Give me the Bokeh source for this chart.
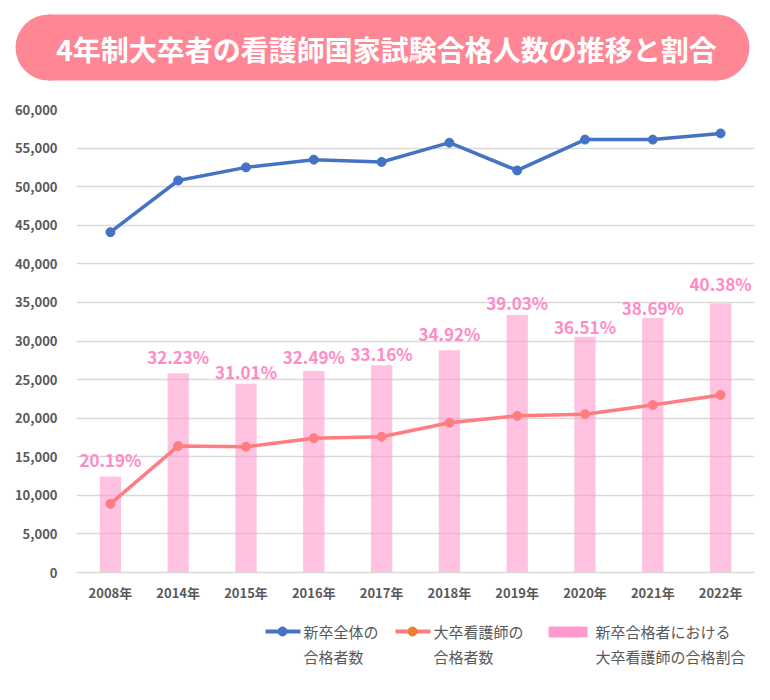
from bokeh.plotting import figure
from bokeh.layouts import column
from bokeh.models import Range1d, NumeralTickFormatter, SingleIntervalTicker, ColumnDataSource
from bokeh.core.properties import value
from bokeh.embed import file_html
from bokeh.resources import INLINE

# --- data -------------------------------------------------------------
years = ["2008年", "2014年", "2015年", "2016年", "2017年",
         "2018年", "2019年", "2020年", "2021年", "2022年"]
# 新卒全体の合格者数
total_passers = [44100, 50800, 52500, 53500, 53200, 55700, 52100, 56100, 56100, 56900]
# 大卒看護師の合格者数
univ_passers = [8900, 16400, 16300, 17400, 17600, 19400, 20300, 20500, 21700, 23000]
# 新卒合格者における大卒看護師の合格割合 (%)
share_pct = [20.19, 32.23, 31.01, 32.49, 33.16, 34.92, 39.03, 36.51, 38.69, 40.38]
share_labels = [f"{v:.2f}%" for v in share_pct]

title_text = "4年制大卒者の看護師国家試験合格人数の推移と割合"
legend_text = ["新卒全体の", "合格者数", "大卒看護師の", "合格者数",
               "新卒合格者における", "大卒看護師の合格割合"]

# how far (px) each percentage label sits above its bar
label_lift = [17, 17, 12, 15, 12, 17, 13, 10, 10, 20]

FONT = "Noto Sans CJK JP"
GREY = "#595959"
BLUE = "#4472C4"
SALMON = "#FF7C80"
ORANGE = "#ED7D31"
PINK = "#FF99CC"
LABEL_PINK = "#FF8AC6"
BANNER = "#FF8795"

W = 770


def panel(height, y_top, y_bottom):
    """A bare full-width figure whose data units equal canvas pixels."""
    f = figure(width=W, height=height,
               x_range=Range1d(0, W), y_range=Range1d(y_bottom, y_top),
               x_axis_type=None, y_axis_type=None, toolbar_location=None,
               output_backend="svg", min_border=0, frame_align=False)
    f.outline_line_color = None
    return f


# --- title banner -----------------------------------------------------
head = panel(95, 0, 95)
head.quad(left=48, right=716, top=14, bottom=80, fill_color=BANNER, line_color=None)
head.circle(x=[48, 716], y=[47, 47], radius=33, fill_color=BANNER, line_color=None)
head.text(x=[386], y=[48], text=[title_text], text_align="center", text_baseline="middle",
          text_font=value(FONT), text_font_style="bold", text_font_size="28px",
          text_color="white")

# --- main chart -------------------------------------------------------
p = figure(width=W, height=515, x_range=years, y_range=Range1d(0, 60000),
           toolbar_location=None, output_backend="svg",
           min_border_left=76, min_border_right=16,
           min_border_top=14, min_border_bottom=38)
p.outline_line_color = None
p.extra_y_ranges = {"share": Range1d(9, 63)}

p.vbar(x=years, top=share_pct, bottom=9, width=0.315, y_range_name="share",
       fill_color=PINK, fill_alpha=0.6, line_color=None)

p.line(years, univ_passers, line_color=SALMON, line_width=3.5)
p.scatter(years, univ_passers, size=9, fill_color=SALMON, line_color=SALMON)

p.line(years, total_passers, line_color=BLUE, line_width=3.5)
p.scatter(years, total_passers, size=9, fill_color=BLUE, line_color=BLUE)

label_src = ColumnDataSource(dict(x=years, y=share_pct, text=share_labels,
                                  dy=[-v for v in label_lift]))
p.text(x="x", y="y", text="text", y_offset="dy", source=label_src, y_range_name="share",
       text_align="center", text_baseline="middle",
       text_font=value(FONT), text_font_style="bold", text_font_size="17px",
       text_color=LABEL_PINK)

p.xgrid.grid_line_color = None
p.ygrid.grid_line_color = "#D9D9D9"
p.ygrid.grid_line_width = 1.3

p.yaxis.ticker = SingleIntervalTicker(interval=5000)
p.yaxis.formatter = NumeralTickFormatter(format="0,0")
p.yaxis.axis_line_color = None
p.yaxis.major_tick_line_color = None
p.yaxis.minor_tick_line_color = None
p.yaxis.major_label_standoff = 13
p.yaxis.major_label_text_font = FONT
p.yaxis.major_label_text_font_size = "13px"
p.yaxis.major_label_text_font_style = "bold"
p.yaxis.major_label_text_color = GREY

p.xaxis.axis_line_color = "#D9D9D9"
p.xaxis.axis_line_width = 1.3
p.xaxis.major_tick_line_color = None
p.xaxis.minor_tick_line_color = None
p.xaxis.major_tick_out = 0
p.xaxis.major_label_standoff = 10
p.xaxis.major_label_text_font = FONT
p.xaxis.major_label_text_font_size = "13px"
p.xaxis.major_label_text_font_style = "bold"
p.xaxis.major_label_text_color = GREY

# --- legend -----------------------------------------------------------
leg = panel(90, 610, 700)

leg.segment(x0=[265], y0=[631], x1=[300], y1=[631], line_color=BLUE, line_width=4)
leg.scatter(x=[282], y=[631], size=9, fill_color=BLUE, line_color=BLUE)
leg.segment(x0=[395], y0=[631], x1=[430], y1=[631], line_color=SALMON, line_width=4)
leg.scatter(x=[412], y=[631], size=9, fill_color=ORANGE, line_color=ORANGE)
leg.quad(left=548, right=587, top=626, bottom=637, fill_color=PINK, line_color=None)

leg.text(x=[303, 303, 433, 433, 595, 595], y=[631, 656, 631, 656, 631, 656],
         text=legend_text, text_align="left", text_baseline="middle",
         text_font=value(FONT), text_font_size="15px", text_color=GREY)

layout = column(head, p, leg, spacing=0)

with open("out.html", "w") as f:
    f.write(file_html(layout, INLINE))
